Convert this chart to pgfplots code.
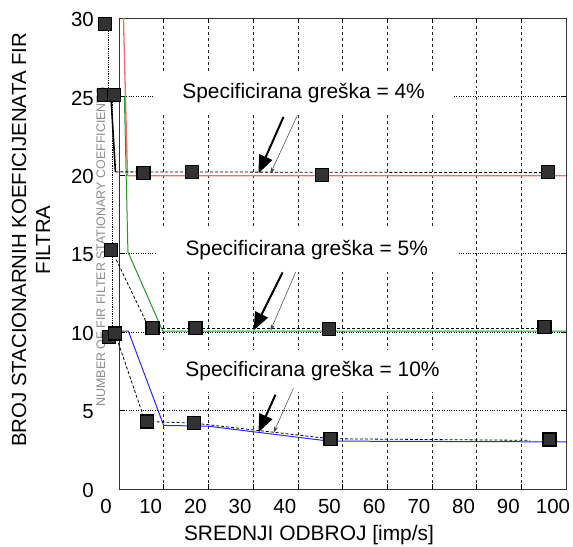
\documentclass[border=0pt]{standalone}
\usepackage{pgfplots}
\pgfplotsset{compat=1.18}
\usepackage{fontspec}
\setmainfont{Liberation Sans}
\usetikzlibrary{arrows.meta,calc}
\definecolor{redline}{RGB}{240,110,110}
\definecolor{greenline}{RGB}{40,150,40}
\definecolor{blueline}{RGB}{40,40,255}
\definecolor{markfill}{RGB}{50,50,50}
\begin{document}
\begin{tikzpicture}
\begin{axis}[name=ax, scale only axis, width=447bp, height=471bp,
  xmin=0, xmax=100, ymin=0, ymax=30,
  xtick={0,10,...,100}, ytick={0,5,...,30},
  /pgf/number format/assume math mode=true,
  tick label style={font=\fontsize{20.5}{24}\selectfont},
  xticklabel style={anchor=base, yshift=-24bp, xshift=-13bp},
  yticklabel style={anchor=east, inner sep=0pt, xshift=-25bp, yshift=-1.5bp},
  xmajorgrids, ymajorgrids,
  major x grid style={dashed, black!85, line width=0.5pt},
  major y grid style={dotted, black, line width=0.8pt},
  axis line style={black!80, line width=0.9pt},
  tick style={black, line width=0.6pt}, major tick length=5bp, tick align=inside,
  xlabel={SREDNJI ODBROJ [imp/s]},
  xlabel style={at={(axis description cs:0.425,-0.1083)}, anchor=base, font=\fontsize{21}{24}\selectfont},
  ylabel={BROJ STACIONARNIH KOEFICIJENATA FIR\\FILTRA},
  ylabel style={at={(axis description cs:-0.197,0.529)}, anchor=center, align=center, font=\fontsize{20.5}{24}\selectfont},
  clip=false,
]
% coloured curves
\addplot[redline, line width=1.3pt] coordinates {(1.0,30) (1.9,19.95) (100,19.95)};
\addplot[greenline, line width=1pt] coordinates {(1.2,25) (2.0,15.1) (9.8,10.05) (100,10.05)};
\addplot[blueline, line width=1pt] coordinates {(0.2,10.05) (2.1,10.05) (10,4.05) (20,4.0) (47,3.05) (100,3.0)};
% black connectors
\addplot[densely dotted, black, line width=0.8pt] coordinates {(-2.4,29.6) (-2.4,25.1)};
\addplot[black, line width=1.6pt] coordinates {(-1.8,25.0) (-0.8,20.2)};
\addplot[densely dashed, black, line width=0.8pt] coordinates {(-0.8,20.2) (95.9,20.15)};
\addplot[densely dotted, black, line width=0.8pt] coordinates {(-1.5,25.0) (-1.5,15.2)};
\addplot[densely dashed, black, line width=0.8pt] coordinates {(-0.6,14.6) (6.3,10.5)};
\addplot[densely dashed, black, line width=0.8pt] coordinates {(7.5,10.2) (95.2,10.2)};
\addplot[densely dotted, black, line width=0.8pt] coordinates {(-1.5,15.0) (-1.5,10.0)};
\addplot[densely dashed, black, line width=0.8pt] coordinates {(-0.5,9.6) (5.5,4.6)};
\addplot[densely dashed, black, line width=0.8pt] coordinates {(6.2,4.3) (16.7,4.2) (47.3,3.2) (92,3.1)};
% markers
\addplot[only marks, mark=square*, mark size=6.5bp, mark options={fill=markfill, draw=black, line width=1.2pt}]
  coordinates {(-3.2,29.6) (-3.3,25.1) (-1.2,25.1) (5.5,20.15) (16.4,20.2) (45.5,20.0) (95.9,20.2)};
\addplot[only marks, mark=square*, mark size=6.5bp, mark options={fill=markfill, draw=black, line width=1.2pt}]
  coordinates {(-1.7,15.2) (7.5,10.25) (17.1,10.25) (46.9,10.2) (95.2,10.3)};
\addplot[only marks, mark=square*, mark size=6.5bp, mark options={fill=markfill, draw=black, line width=1.2pt}]
  coordinates {(-2.3,9.7) (-0.9,9.9) (6.2,4.3) (16.7,4.2) (47.3,3.2) (96.3,3.15)};
% faint overlay label
\node[rotate=90, text=black!45, font=\fontsize{12.5}{14}\selectfont] at (axis description cs:-0.0407,0.514) {NUMBER OF FIR FILTER STATIONARY COEFFICIENTS};
% annotation boxes
\node[fill=white, minimum width=301bp, minimum height=43bp, inner sep=0pt, font=\fontsize{21}{24}\selectfont] at (axis cs:41.3,25.2) {Specificirana greška = 4\%};
\node[fill=white, minimum width=302bp, minimum height=44bp, inner sep=0pt, font=\fontsize{21}{24}\selectfont] at (axis cs:42.0,15.2) {Specificirana greška = 5\%};
\node[fill=white, minimum width=315bp, minimum height=42bp, inner sep=0pt, font=\fontsize{21}{24}\selectfont] at (axis cs:43.3,7.5) {Specificirana greška = 10\%};
% arrows
\draw[black, line width=2pt, -{Triangle[length=18bp,width=14bp]}] (axis cs:36.8,23.7) -- (axis cs:31.2,20.1);
\draw[black!75, line width=0.5pt, -{Stealth[length=6bp,width=4bp]}] (axis cs:39.9,23.8) -- (axis cs:33.9,20.1);
\draw[black, line width=2pt, -{Triangle[length=18bp,width=14bp]}] (axis cs:36.6,13.8) -- (axis cs:30.1,10.1);
\draw[black!75, line width=0.5pt, -{Stealth[length=6bp,width=4bp]}] (axis cs:39.5,13.8) -- (axis cs:33.9,10.1);
\draw[black, line width=2pt, -{Triangle[length=18bp,width=14bp]}] (axis cs:35.0,6.0) -- (axis cs:31.2,3.6);
\draw[black!75, line width=0.5pt, -{Stealth[length=6bp,width=4bp]}] (axis cs:39.0,6.4) -- (axis cs:34.6,3.6);
\end{axis}
\pgfresetboundingbox
\path[use as bounding box] ($(ax.south west)+(-119bp,-58bp)$) rectangle ($(ax.north east)+(7bp,18bp)$);
\end{tikzpicture}
\end{document}
